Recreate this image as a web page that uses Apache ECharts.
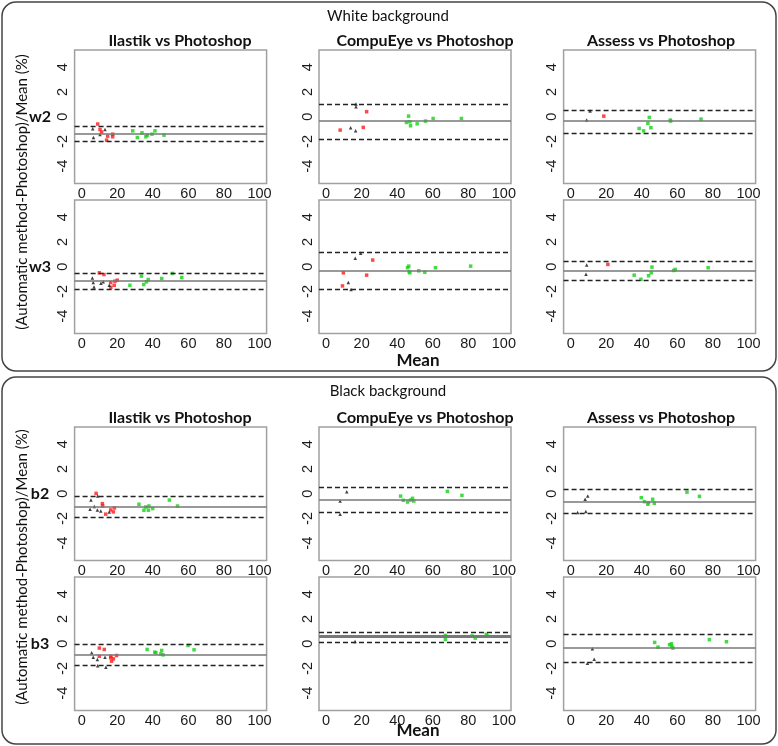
<!DOCTYPE html>
<html>
<head>
<meta charset="utf-8">
<script src="https://cdn.jsdelivr.net/npm/echarts@6/dist/echarts.min.js"></script>
<style>
  html, body { margin: 0; padding: 0; background: #fff; }
  #chart { width: 778px; height: 746px; }
</style>
</head>
<body>
<div id="chart"></div>
<script>
// panel titles, row names, ticks
var colTitles = ['Ilastik vs Photoshop', 'CompuEye vs Photoshop', 'Assess vs Photoshop'];
var rowNames = ['w2', 'w3', 'b2', 'b3'];
var xTicks = [0, 20, 40, 60, 80, 100];
var yTicks = [-4, -2, 0, 2, 4];

// bias and limits of agreement, per row: [Ilastik, CompuEye, Assess]
var meanDiff   = [[-1.35, -0.35, -0.35], [-1.14, -0.33, -0.35], [-1.04, -0.45, -0.64], [-0.90, 0.60, -0.30]];
var upperLimit = [[-0.76, 1.03, 0.54], [-0.49, 1.17, 0.41], [-0.19, 0.56, 0.35], [-0.08, 0.95, 0.79]];
var lowerLimit = [[-1.97, -1.81, -1.32], [-1.80, -1.85, -1.12], [-1.92, -1.47, -1.57], [-1.77, 0.16, -1.50]];

// points [mean, diff%], per row: [Ilastik, CompuEye, Assess]
var w2Black = [
  [[6.2, -0.97], [6.6, -1.68], [10.3, -1.43], [13.1, -1.03]],
  [[13.8, -0.89], [16.8, 1.03], [16.8, 0.8], [16.6, -1.14]],
  [[9.0, -0.27], [10.9, 0.46]]
];
var w2Red = [
  [[9.0, -0.59], [10.3, -1.03], [11.2, -1.24], [14.6, -1.57], [14.0, -1.89], [17.4, -1.41], [17.4, -1.62]],
  [[7.9, -1.08], [20.9, -0.86], [22.8, 0.41]],
  [[18.6, 0.05]]
];
var w2Green = [
  [[28.7, -1.14], [31.3, -1.68], [33.9, -1.30], [36.1, -1.62], [36.9, -1.49], [39.5, -1.41], [41.2, -1.14], [46.3, -1.49]],
  [[45.2, -0.46], [46.4, 0.05], [47.1, -0.41], [47.5, -0.73], [51.2, -0.57], [55.9, -0.35], [60.2, -0.14], [76.1, -0.14]],
  [[38.5, -0.95], [41.0, -1.14], [43.4, -0.54], [44.2, -0.05], [45.1, -0.89], [56.0, -0.27], [56.2, -0.35], [73.3, -0.19]]
];

var w3Black = [
  [[6.0, -0.90], [6.5, -1.28], [6.9, -1.63], [10.8, -1.33], [12.1, -1.22], [15.5, -1.50]],
  [[12.5, -1.28], [14.0, -1.85], [16.4, 0.68], [19.4, 1.09]],
  [[9.0, 0.14], [8.6, -0.60]]
];
var w3Red = [
  [[9.9, -0.49], [12.5, -0.63], [16.3, -1.28], [16.4, -1.66], [18.3, -1.50], [18.7, -1.17], [20.0, -1.09]],
  [[9.2, -1.55], [9.7, -0.49], [22.8, -0.68], [26.2, 0.54]],
  [[20.9, 0.19]]
];
var w3Green = [
  [[27.1, -1.50], [33.6, -0.76], [34.9, -1.44], [36.4, -1.22], [37.4, -1.03], [45.0, -0.95], [51.0, -0.54], [56.3, -0.87]],
  [[45.8, -0.08], [46.5, 0.05], [46.7, -0.41], [47.1, -0.49], [52.1, -0.33], [55.5, -0.44], [61.5, -0.08], [81.3, 0.05]],
  [[35.7, -0.68], [39.5, -1.01], [43.8, -0.73], [45.3, -0.49], [45.7, -0.03], [57.9, -0.30], [58.8, -0.22], [77.3, -0.08]]
];

var b2Black = [
  [[4.7, -1.25], [5.2, -0.51], [7.1, -1.04], [8.8, -1.31], [9.0, -0.19], [10.7, -1.39], [15.5, -1.47]],
  [[7.9, -0.59], [7.9, -1.65], [11.6, 0.16]],
  [[3.9, -1.52], [8.1, -0.45], [8.5, -1.44], [9.6, -0.19]]
];
var b2Red = [
  [[8.1, 0.03], [11.6, -0.80], [11.8, -0.99], [13.5, -1.65], [16.3, -1.31], [17.8, -1.47], [18.4, -1.15]],
  [],
  []
];
var b2Green = [
  [[32.2, -0.85], [35.0, -1.33], [36.1, -1.07], [37.5, -1.33], [37.8, -0.99], [39.9, -1.20], [49.3, -0.51], [53.9, -0.99]],
  [[41.9, -0.19], [43.4, -0.53], [45.8, -0.67], [47.5, -0.51], [48.6, -0.37], [49.3, -0.59], [68.2, 0.19], [76.4, -0.13]],
  [[39.7, -0.32], [41.5, -0.64], [43.4, -0.85], [43.8, -0.72], [46.1, -0.45], [47.0, -0.77], [65.4, 0.13], [72.4, -0.21]]
];

var b3Black = [
  [[5.6, -0.73], [6.5, -1.09], [8.8, -1.28], [9.0, -1.77], [13.1, -1.09], [13.6, -1.90]],
  [[16.3, 0.19]],
  [[12.2, -0.41], [13.2, -1.25], [9.4, -1.58]]
];
var b3Red = [
  [[9.9, -0.35], [9.9, -1.01], [12.7, -0.46], [16.4, -1.01], [16.8, -1.41], [17.8, -1.22], [19.6, -0.95], [16.3, -1.14]],
  [],
  []
];
var b3Green = [
  [[36.8, -0.46], [41.1, -0.68], [41.7, -0.73], [44.5, -0.82], [45.0, -0.54], [45.8, -0.90], [59.8, -0.14], [63.2, -0.49]],
  [[67.1, 0.68], [67.1, 0.35], [82.1, 0.63], [83.9, 0.46], [90.1, 0.76], [90.7, 0.63]],
  [[47.2, 0.11], [49.1, -0.27], [55.6, -0.08], [56.6, 0.0], [56.9, -0.22], [57.5, -0.35], [78.0, 0.33], [87.6, 0.16]]
];

var blackPts = [w2Black, w3Black, b2Black, b3Black];
var redPts = [w2Red, w3Red, b2Red, b3Red];
var greenPts = [w2Green, w3Green, b2Green, b3Green];

// layout
var colLeft = [74.6, 319, 563.6];
var rowTop = [50, 200, 427, 577];
var panelW = 192, panelH = 133.5;
var titleX = [180, 425, 661];

var chart = echarts.init(document.getElementById('chart'));

var grids = [], xAxes = [], yAxes = [], series = [], graphics = [];
var idx = 0;
for (var r = 0; r < 4; r++) {
  for (var c = 0; c < 3; c++) {
    grids.push({
      left: colLeft[c], top: rowTop[r], width: panelW, height: panelH,
      show: true, borderColor: '#a0a0a0', borderWidth: 1.5,
      backgroundColor: '#fff', containLabel: false, outerBoundsMode: 'none'
    });
    xAxes.push({
      type: 'value', gridIndex: idx, min: -4, max: 104,
      splitLine: { show: false }, axisLine: { show: false },
      axisTick: { show: false },
      axisLabel: {
        customValues: xTicks, margin: 3,
        fontFamily: 'Liberation Sans', fontSize: 14.5, color: '#1a1a1a'
      }
    });
    yAxes.push({
      type: 'value', gridIndex: idx, min: -5.4, max: 5.4,
      splitLine: { show: false }, axisLine: { show: false },
      axisTick: { show: false },
      axisLabel: {
        customValues: yTicks, rotate: 90, margin: 4,
        fontFamily: 'Liberation Sans', fontSize: 14.5, color: '#1a1a1a',
        align: 'center', verticalAlign: 'bottom'
      }
    });
    series.push({
      type: 'scatter', xAxisIndex: idx, yAxisIndex: idx,
      data: greenPts[r][c], symbol: 'rect', symbolSize: 3.5,
      itemStyle: { color: '#14d214' }, silent: true,
      markLine: {
        silent: true, symbol: ['none', 'none'], label: { show: false },
        animation: false,
        data: [
          { yAxis: meanDiff[r][c], lineStyle: { color: '#777', width: (r === 3 && c === 1) ? 3 : 1.6, type: 'solid' } },
          { yAxis: upperLimit[r][c], lineStyle: { color: '#222', width: 1.4, type: [5, 3] } },
          { yAxis: lowerLimit[r][c], lineStyle: { color: '#222', width: 1.4, type: [5, 3] } }
        ]
      }
    });
    series.push({
      type: 'scatter', xAxisIndex: idx, yAxisIndex: idx,
      data: redPts[r][c], symbol: 'rect', symbolSize: 3.5,
      itemStyle: { color: '#ff1a1a' }, silent: true
    });
    series.push({
      type: 'scatter', xAxisIndex: idx, yAxisIndex: idx,
      data: blackPts[r][c], symbol: 'triangle', symbolSize: 3.5,
      itemStyle: { color: '#111' }, silent: true
    });
    idx++;
  }
}

// panel titles (top row of each group)
[0, 2].forEach(function (r) {
  for (var c = 0; c < 3; c++) {
    graphics.push({
      type: 'text', x: titleX[c], y: rowTop[r] - 9,
      style: {
        text: colTitles[c], fill: '#111', font: 'bold 16px Lato',
        textAlign: 'center', textVerticalAlign: 'middle'
      }
    });
  }
});

// row labels
for (var r2 = 0; r2 < 4; r2++) {
  graphics.push({
    type: 'text', x: 40, y: rowTop[r2] + panelH / 2,
    style: {
      text: rowNames[r2], fill: '#111', font: 'bold 16px Lato',
      textAlign: 'center', textVerticalAlign: 'middle'
    }
  });
}

// group boxes, headers, axis titles
var groups = [
  { name: 'White background', top: 2, bottom: 371, yTitle: 192, xTitle: 361 },
  { name: 'Black background', top: 377, bottom: 744, yTitle: 567, xTitle: 731 }
];
groups.forEach(function (g) {
  graphics.push({
    type: 'rect', z: -1,
    shape: { x: 2, y: g.top, width: 774, height: g.bottom - g.top, r: 14 },
    style: { fill: 'none', stroke: '#444', lineWidth: 1.5 }
  });
  graphics.push({
    type: 'text', x: 388, y: g.top + 14,
    style: {
      text: g.name, fill: '#111', font: '15px Lato',
      textAlign: 'center', textVerticalAlign: 'middle'
    }
  });
  graphics.push({
    type: 'text', x: 22, y: g.yTitle, rotation: Math.PI / 2,
    style: {
      text: '(Automatic method-Photoshop)/Mean (%)', fill: '#111', font: '15px Lato',
      textAlign: 'center', textVerticalAlign: 'middle'
    }
  });
  graphics.push({
    type: 'text', x: 418, y: g.xTitle,
    style: {
      text: 'Mean', fill: '#111', font: 'bold 17px Lato',
      textAlign: 'center', textVerticalAlign: 'middle'
    }
  });
});

chart.setOption({
  animation: false,
  backgroundColor: '#fff',
  grid: grids,
  xAxis: xAxes,
  yAxis: yAxes,
  series: series,
  graphic: { elements: graphics }
});
</script>
</body>
</html>
